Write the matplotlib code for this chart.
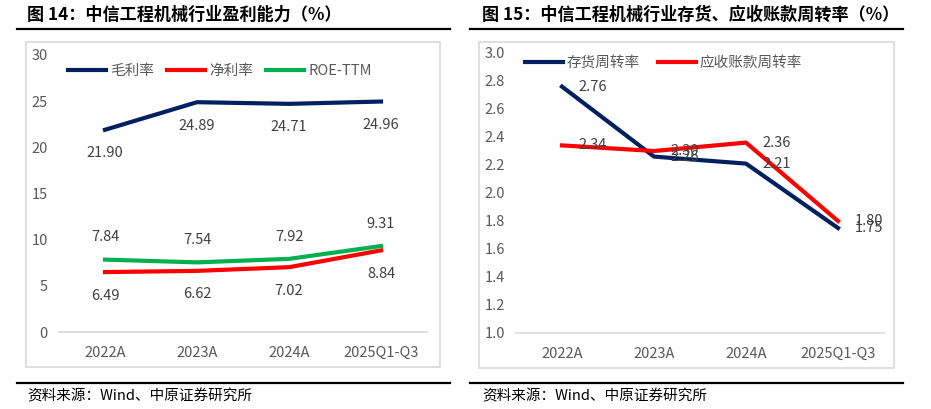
import matplotlib.pyplot as plt
from matplotlib.patches import Rectangle
from matplotlib.lines import Line2D

plt.rcParams['font.family'] = ['Noto Sans CJK SC', 'DejaVu Sans']

# DATA

periods = ['2022A', '2023A', '2024A', '2025Q1-Q3']

gross_margin = [21.90, 24.89, 24.71, 24.96]
net_margin = [6.49, 6.62, 7.02, 8.84]
roe_ttm = [7.84, 7.54, 7.92, 9.31]

inventory_turn = [2.76, 2.26, 2.21, 1.75]
receivable_turn = [2.34, 2.30, 2.36, 1.80]

left_title = '图 14：中信工程机械行业盈利能力（%）'
right_title = '图 15：中信工程机械行业存货、应收账款周转率（%）'
source_text = '资料来源：Wind、中原证券研究所'

NAVY = '#002060'
RED = '#FF0000'
GREEN = '#00B050'
GREY = '#595959'
LABEL = '#404040'
BORDER = '#D9D9D9'

W, H = 931, 409
fig = plt.figure(figsize=(W / 100, H / 100), dpi=100)


def px_axes(x0, x1, y_top, y_bot):
    return fig.add_axes([x0 / W, 1 - y_bot / H, (x1 - x0) / W, (y_bot - y_top) / H])


def fx(x):
    return x / W


def fy(y):
    return 1 - y / H


# FRAME: TITLES, RULES, BOXES, SOURCE

for x_text, x0, x1, title in [(27, 17, 450, left_title), (482, 470, 903, right_title)]:
    fig.text(fx(x_text), fy(15), title, fontsize=12.3, fontweight='bold',
             va='center', ha='left', color='black')
    fig.add_artist(Line2D([fx(x0), fx(x1)], [fy(29), fy(29)], color='black', lw=1.6))
    fig.add_artist(Line2D([fx(x0), fx(x1)], [fy(383), fy(383)], color='black', lw=1.6))
    fig.text(fx(x_text), fy(396), source_text, fontsize=10.5, va='center', ha='left',
             color='black')

fig.add_artist(Rectangle((fx(26), fy(367)), (440 - 26) / W, (367 - 42) / H,
                         fill=False, edgecolor=BORDER, lw=1.2))
fig.add_artist(Rectangle((fx(479), fy(368)), (894 - 479) / W, (368 - 42) / H,
                         fill=False, edgecolor=BORDER, lw=1.2))


def style_axes(ax):
    for side in ['top', 'right', 'left']:
        ax.spines[side].set_visible(False)
    ax.spines['bottom'].set_color(BORDER)
    ax.spines['bottom'].set_linewidth(1.2)
    ax.tick_params(axis='both', length=0, colors=GREY, labelsize=10.5)
    ax.tick_params(axis='y', pad=8)
    ax.tick_params(axis='x', pad=10)
    ax.set_xlim(-0.5, 3.5)
    ax.set_xticks(range(len(periods)))
    ax.set_xticklabels(periods)
    ax.patch.set_alpha(0)


# GRAPH 1: PROFITABILITY

ax1 = px_axes(59, 427, 55, 332)
x = range(len(periods))
ax1.plot(x, gross_margin, color=NAVY, lw=3, label='毛利率')
ax1.plot(x, net_margin, color=RED, lw=3, label='净利率')
ax1.plot(x, roe_ttm, color=GREEN, lw=3, label='ROE-TTM')
ax1.set_ylim(0, 30)
ax1.set_yticks(range(0, 31, 5))
style_axes(ax1)

for i in x:
    ax1.annotate(f'{gross_margin[i]:.2f}', (i, gross_margin[i]), xytext=(0, -17),
                 textcoords='offset points', ha='center', va='center',
                 fontsize=10.5, color=LABEL)
    ax1.annotate(f'{net_margin[i]:.2f}', (i, net_margin[i]), xytext=(0, -17),
                 textcoords='offset points', ha='center', va='center',
                 fontsize=10.5, color=LABEL)
    ax1.annotate(f'{roe_ttm[i]:.2f}', (i, roe_ttm[i]), xytext=(0, 16),
                 textcoords='offset points', ha='center', va='center',
                 fontsize=10.5, color=LABEL)

ax1.legend(loc='upper left', bbox_to_anchor=(0.0, 1.0), ncol=3, frameon=False,
           handlelength=2.6, handletextpad=0.3, columnspacing=0.9,
           fontsize=10.5, labelcolor=GREY, borderaxespad=0.2)

# GRAPH 2: TURNOVER

ax2 = px_axes(516, 884, 53, 333)
ax2.plot(x, inventory_turn, color=NAVY, lw=3, label='存货周转率')
ax2.plot(x, receivable_turn, color=RED, lw=3, label='应收账款周转率')
ax2.set_ylim(1.0, 3.0)
ax2.set_yticks([1.0 + 0.2 * k for k in range(11)])
ax2.set_yticklabels([f'{1.0 + 0.2 * k:.1f}' for k in range(11)])
style_axes(ax2)

for i in x:
    ax2.annotate(f'{inventory_turn[i]:.2f}', (i, inventory_turn[i]), xytext=(12, 0),
                 textcoords='offset points', ha='left', va='center',
                 fontsize=10.5, color=LABEL)
    ax2.annotate(f'{receivable_turn[i]:.2f}', (i, receivable_turn[i]), xytext=(12, 0),
                 textcoords='offset points', ha='left', va='center',
                 fontsize=10.5, color=LABEL)

ax2.legend(loc='upper left', bbox_to_anchor=(0.0, 1.02), ncol=2, frameon=False,
           handlelength=2.6, handletextpad=0.3, columnspacing=1.2,
           fontsize=10.5, labelcolor=GREY, borderaxespad=0.2)

fig.savefig('out.png', dpi=100)
